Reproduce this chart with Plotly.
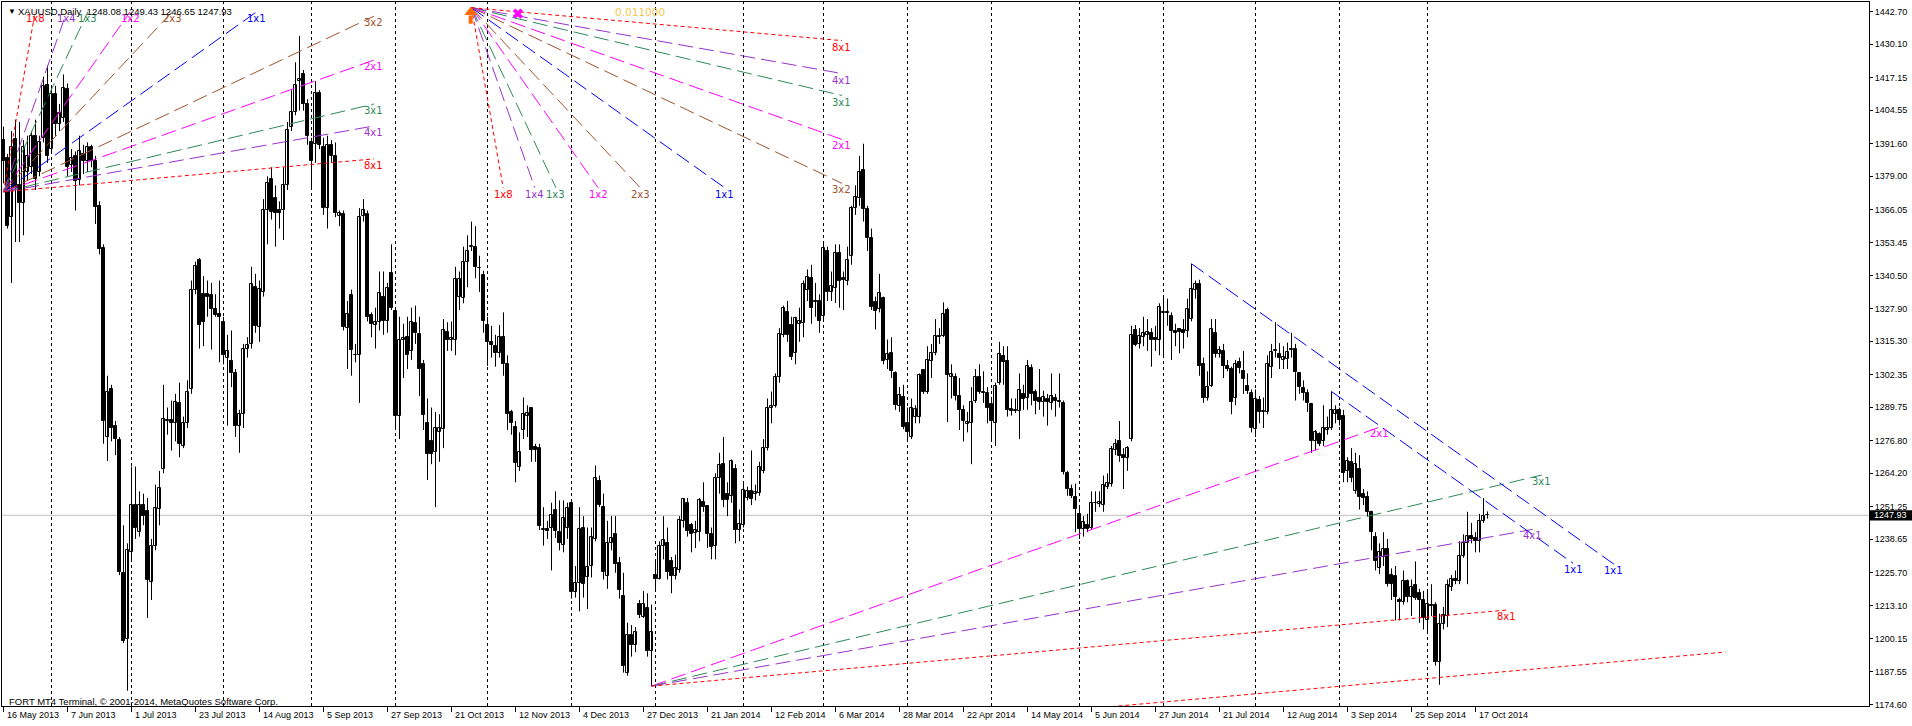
import pandas as pd
import plotly.graph_objects as go

# XAUUSD daily candles, bar 0 = 16 May 2013
opens = [
    1393.0, 1386.0, 1363.2, 1393.3, 1375.8, 1368.5, 1380.7, 1382.5, 1394.7, 1380.7,
    1393.9, 1414.4, 1389.5, 1410.9, 1399.1, 1401.7, 1412.6, 1383.3, 1386.9, 1377.6,
    1387.7, 1385.1, 1390.4, 1385.1, 1367.6, 1351.3, 1278.2, 1296.6, 1282.6, 1277.0,
    1225.7, 1200.3, 1233.6, 1251.9, 1241.4, 1251.9, 1249.7, 1222.2, 1236.2, 1250.2,
    1266.0, 1284.9, 1284.7, 1283.5, 1291.4, 1274.7, 1283.5, 1296.6, 1335.2, 1346.6,
    1333.4, 1333.4, 1333.1, 1327.6, 1325.9, 1322.6, 1308.9, 1307.5, 1302.8, 1282.6,
    1287.0, 1312.4, 1314.2, 1336.4, 1320.8, 1334.3, 1365.8, 1378.1, 1370.6, 1365.8,
    1365.8, 1375.5, 1398.2, 1403.9, 1415.8, 1418.7, 1407.0, 1392.1, 1391.6, 1411.4,
    1390.4, 1366.7, 1391.2, 1386.9, 1363.6, 1364.4, 1320.3, 1333.1, 1310.1, 1309.8,
    1363.6, 1364.4, 1325.5, 1321.5, 1322.6, 1332.5, 1322.9, 1341.7, 1326.8, 1286.5,
    1315.6, 1316.8, 1311.5, 1322.4, 1318.0, 1306.6, 1283.5, 1276.5, 1272.6, 1280.3,
    1281.2, 1318.9, 1315.6, 1315.6, 1332.5, 1332.0, 1345.7, 1351.8, 1351.8, 1343.6,
    1341.0, 1321.7, 1315.0, 1313.3, 1310.6, 1316.8, 1306.6, 1287.9, 1282.1, 1266.5,
    1280.9, 1286.5, 1289.3, 1274.2, 1273.9, 1242.3, 1242.7, 1243.2, 1250.0, 1241.4,
    1236.5, 1243.2, 1252.5, 1218.3, 1221.7, 1243.2, 1223.9, 1228.3, 1238.8, 1261.2,
    1251.1, 1224.5, 1237.4, 1240.6, 1229.5, 1216.9, 1187.1, 1201.5, 1197.7, 1213.8,
    1208.7, 1212.0, 1195.5, 1224.8, 1223.4, 1236.2, 1237.4, 1230.4, 1224.5, 1226.9,
    1245.8, 1252.5, 1244.1, 1240.9, 1241.4, 1253.2, 1251.6, 1240.6, 1236.2, 1262.5,
    1267.7, 1256.3, 1255.5, 1266.0, 1242.3, 1244.1, 1254.6, 1257.2, 1256.3, 1256.7,
    1265.1, 1273.9, 1289.6, 1290.2, 1301.5, 1317.7, 1326.4, 1321.5, 1310.6, 1322.0,
    1322.4, 1335.2, 1339.6, 1330.8, 1330.8, 1325.0, 1350.1, 1334.3, 1335.7, 1349.5,
    1339.6, 1338.7, 1348.3, 1366.7, 1370.7, 1381.3, 1366.4, 1355.3, 1330.3, 1327.8,
    1332.0, 1308.0, 1310.6, 1302.8, 1290.2, 1293.7, 1283.5, 1278.2, 1286.1, 1286.1,
    1304.0, 1295.8, 1307.5, 1310.6, 1316.8, 1317.3, 1327.3, 1301.5, 1301.5, 1294.0,
    1288.7, 1283.1, 1283.5, 1292.3, 1301.5, 1295.8, 1295.2, 1290.9, 1283.5, 1298.9,
    1309.6, 1307.7, 1289.1, 1288.4, 1288.2, 1294.9, 1293.1, 1305.0, 1295.8, 1293.1,
    1291.7, 1292.8, 1291.4, 1293.1, 1292.3, 1291.4, 1264.2, 1258.1, 1254.9, 1248.5,
    1242.7, 1244.1, 1243.2, 1252.5, 1252.3, 1251.9, 1259.0, 1260.2, 1273.0, 1276.5,
    1271.2, 1270.0, 1277.4, 1319.4, 1314.2, 1316.8, 1317.7, 1318.5, 1316.3, 1315.9,
    1326.1, 1326.4, 1325.0, 1319.1, 1319.8, 1319.4, 1319.1, 1323.8, 1335.2, 1337.5,
    1306.3, 1293.1, 1298.0, 1318.5, 1310.3, 1311.3, 1305.7, 1304.5, 1293.1, 1307.1,
    1303.6, 1297.9, 1295.2, 1281.2, 1292.6, 1287.9, 1287.9, 1305.4, 1311.3, 1310.3,
    1308.0, 1308.5, 1312.0, 1312.4, 1302.8, 1297.3, 1295.2, 1291.0, 1276.5, 1279.5,
    1276.5, 1280.9, 1281.7, 1287.0, 1288.7, 1286.5, 1265.1, 1268.6, 1257.2, 1266.0,
    1256.0, 1254.9, 1249.3, 1239.7, 1227.4, 1231.8, 1234.8, 1224.8, 1224.5, 1215.2,
    1214.3, 1222.5, 1216.4, 1220.8, 1217.8, 1215.2, 1207.6, 1213.4, 1213.4, 1191.2,
    1205.9, 1209.0, 1220.2, 1223.4, 1222.7, 1232.2, 1237.1, 1240.0, 1239.2, 1237.9,
    1245.8, 1248.08,
]
highs = [
    1398.2, 1387.7, 1396.5, 1400.9, 1400.0, 1393.0, 1394.7, 1396.5, 1400.9, 1394.7,
    1417.5, 1421.9, 1413.1, 1414.0, 1407.0, 1418.4, 1414.9, 1389.5, 1388.6, 1394.7,
    1391.2, 1392.1, 1391.2, 1386.9, 1369.3, 1352.7, 1301.9, 1298.4, 1284.4, 1278.2,
    1244.1, 1237.1, 1266.8, 1266.8, 1257.2, 1256.3, 1254.6, 1238.8, 1259.8, 1265.1,
    1298.4, 1289.6, 1292.3, 1294.9, 1299.2, 1286.1, 1300.1, 1338.7, 1346.0, 1347.4,
    1340.4, 1338.7, 1337.8, 1333.4, 1338.7, 1324.7, 1317.7, 1319.4, 1304.5, 1288.7,
    1314.2, 1316.8, 1344.0, 1341.3, 1338.7, 1370.2, 1379.0, 1382.5, 1375.5, 1369.3,
    1382.5, 1400.0, 1412.3, 1423.1, 1433.3, 1420.1, 1408.8, 1393.9, 1415.8, 1412.3,
    1393.9, 1394.7, 1393.0, 1392.1, 1365.8, 1365.8, 1330.8, 1335.2, 1314.2, 1366.7,
    1370.2, 1365.8, 1326.4, 1328.2, 1342.2, 1342.2, 1337.8, 1352.7, 1328.2, 1324.7,
    1322.0, 1324.7, 1328.2, 1329.0, 1324.7, 1308.0, 1293.1, 1289.6, 1287.9, 1287.0,
    1323.8, 1322.6, 1322.9, 1344.0, 1342.2, 1351.8, 1356.2, 1361.5, 1359.7, 1348.3,
    1342.5, 1324.7, 1321.2, 1317.7, 1321.5, 1326.4, 1309.8, 1288.7, 1284.4, 1280.0,
    1293.5, 1290.5, 1289.6, 1275.6, 1275.6, 1251.1, 1245.8, 1252.8, 1257.2, 1253.7,
    1253.7, 1252.8, 1253.7, 1228.3, 1251.1, 1247.6, 1243.2, 1243.2, 1267.2, 1263.3,
    1256.3, 1245.8, 1247.6, 1247.6, 1231.8, 1225.7, 1206.4, 1205.5, 1204.7, 1215.2,
    1218.7, 1217.8, 1213.4, 1230.1, 1237.9, 1247.6, 1243.2, 1231.8, 1232.7, 1247.6,
    1254.6, 1254.6, 1245.0, 1245.8, 1254.6, 1260.7, 1251.9, 1243.2, 1264.2, 1272.1,
    1278.2, 1260.7, 1269.5, 1267.7, 1250.2, 1260.7, 1259.0, 1273.0, 1259.8, 1268.6,
    1277.4, 1293.1, 1295.8, 1302.8, 1320.3, 1329.0, 1330.8, 1324.7, 1324.7, 1328.2,
    1338.7, 1343.0, 1344.8, 1337.8, 1333.4, 1353.6, 1351.8, 1342.2, 1352.7, 1352.7,
    1342.2, 1351.8, 1367.6, 1375.5, 1386.9, 1391.6, 1367.6, 1358.8, 1332.5, 1341.3,
    1332.5, 1315.9, 1316.8, 1303.6, 1297.5, 1298.4, 1289.6, 1293.1, 1290.5, 1302.8,
    1304.5, 1313.3, 1314.2, 1323.8, 1320.3, 1330.3, 1328.2, 1306.3, 1302.8, 1301.0,
    1290.5, 1287.9, 1297.5, 1304.5, 1306.3, 1303.6, 1297.5, 1293.1, 1299.2, 1315.0,
    1313.3, 1313.3, 1293.1, 1293.1, 1302.8, 1298.4, 1308.0, 1306.3, 1296.6, 1304.5,
    1296.1, 1294.9, 1302.8, 1294.9, 1302.8, 1292.3, 1265.1, 1259.8, 1260.2, 1251.1,
    1247.6, 1248.5, 1257.2, 1257.2, 1257.2, 1263.3, 1264.2, 1274.7, 1277.4, 1284.4,
    1273.9, 1274.7, 1321.2, 1321.5, 1320.3, 1324.7, 1323.8, 1320.3, 1321.2, 1329.9,
    1332.2, 1331.7, 1326.4, 1322.0, 1320.3, 1323.8, 1331.7, 1345.2, 1338.7, 1339.0,
    1308.9, 1303.6, 1323.8, 1323.8, 1313.3, 1314.2, 1308.0, 1305.4, 1308.0, 1308.9,
    1311.5, 1302.8, 1296.6, 1296.6, 1294.0, 1293.5, 1309.8, 1314.2, 1322.6, 1314.5,
    1313.3, 1314.7, 1318.5, 1314.2, 1303.3, 1300.1, 1296.6, 1291.4, 1280.9, 1280.0,
    1290.5, 1286.1, 1295.8, 1290.5, 1289.6, 1288.7, 1270.4, 1273.9, 1272.1, 1271.2,
    1258.1, 1257.2, 1249.7, 1241.4, 1237.1, 1241.4, 1238.8, 1227.4, 1228.3, 1216.1,
    1226.6, 1223.1, 1223.1, 1230.1, 1219.5, 1218.7, 1218.7, 1221.3, 1214.3, 1209.9,
    1212.5, 1223.1, 1224.8, 1226.6, 1237.9, 1240.6, 1249.3, 1245.0, 1241.4, 1248.5,
    1254.6, 1249.43,
]
lows = [
    1376.3, 1358.8, 1337.8, 1353.6, 1353.6, 1356.2, 1377.2, 1379.9, 1373.7, 1379.0,
    1392.1, 1384.2, 1387.7, 1394.7, 1396.5, 1400.0, 1379.0, 1380.7, 1365.8, 1375.5,
    1379.9, 1380.7, 1382.5, 1360.6, 1348.8, 1275.6, 1268.9, 1276.5, 1271.2, 1224.8,
    1198.5, 1180.1, 1230.1, 1238.8, 1239.7, 1244.1, 1208.2, 1215.2, 1234.4, 1244.1,
    1264.2, 1279.1, 1273.0, 1276.5, 1270.4, 1273.9, 1281.7, 1294.9, 1333.4, 1312.4,
    1313.3, 1324.7, 1312.0, 1324.7, 1307.1, 1306.3, 1282.6, 1297.5, 1278.2, 1272.1,
    1281.7, 1308.9, 1312.4, 1318.5, 1315.0, 1332.5, 1352.7, 1362.3, 1351.8, 1358.8,
    1354.4, 1373.7, 1396.5, 1402.6, 1404.4, 1404.4, 1391.2, 1373.7, 1384.2, 1389.5,
    1364.1, 1358.8, 1384.2, 1363.2, 1359.7, 1319.4, 1304.5, 1301.9, 1307.1, 1291.4,
    1361.5, 1322.9, 1316.8, 1312.4, 1319.4, 1317.7, 1318.5, 1327.3, 1280.9, 1277.4,
    1301.0, 1304.5, 1308.0, 1314.2, 1294.0, 1280.9, 1261.6, 1267.7, 1251.1, 1268.6,
    1273.9, 1311.5, 1311.5, 1309.8, 1327.3, 1329.9, 1336.1, 1350.1, 1339.6, 1334.3,
    1318.5, 1305.7, 1308.9, 1305.4, 1308.9, 1301.9, 1280.9, 1279.1, 1260.7, 1265.1,
    1277.4, 1278.2, 1268.6, 1268.6, 1242.3, 1236.2, 1238.8, 1226.6, 1239.2, 1234.4,
    1233.6, 1238.8, 1215.7, 1216.1, 1210.8, 1216.1, 1211.7, 1223.9, 1237.9, 1251.1,
    1223.1, 1219.5, 1234.4, 1225.7, 1215.7, 1187.1, 1185.9, 1193.3, 1195.0, 1208.2,
    1208.2, 1193.3, 1181.9, 1219.5, 1223.1, 1230.9, 1223.1, 1217.8, 1223.1, 1225.7,
    1243.2, 1239.7, 1233.6, 1235.3, 1237.9, 1249.3, 1235.3, 1230.9, 1230.9, 1256.3,
    1251.1, 1247.6, 1252.8, 1237.1, 1237.9, 1243.2, 1253.7, 1251.9, 1253.7, 1255.5,
    1264.2, 1273.0, 1283.5, 1289.6, 1299.2, 1316.8, 1315.0, 1308.0, 1306.3, 1315.0,
    1316.8, 1330.8, 1322.0, 1324.7, 1318.5, 1322.9, 1330.8, 1330.8, 1330.0, 1328.2,
    1327.3, 1336.9, 1344.8, 1364.1, 1367.6, 1361.5, 1350.1, 1327.3, 1319.8, 1326.4,
    1306.3, 1304.5, 1301.0, 1288.7, 1287.9, 1281.2, 1276.5, 1277.4, 1283.5, 1283.5,
    1294.9, 1294.9, 1301.0, 1309.8, 1314.2, 1316.8, 1284.0, 1293.1, 1292.3, 1280.9,
    1276.5, 1280.0, 1267.7, 1291.4, 1294.9, 1291.4, 1283.5, 1276.5, 1274.7, 1298.4,
    1298.4, 1286.1, 1286.5, 1287.5, 1277.4, 1288.7, 1288.7, 1290.5, 1287.0, 1288.7,
    1286.1, 1282.6, 1288.7, 1286.1, 1289.6, 1263.7, 1255.5, 1254.6, 1241.4, 1238.8,
    1239.7, 1241.4, 1242.3, 1249.3, 1251.1, 1249.3, 1258.1, 1259.0, 1271.2, 1268.6,
    1258.1, 1265.1, 1276.5, 1313.3, 1312.4, 1313.3, 1311.5, 1305.4, 1311.5, 1309.8,
    1309.8, 1321.2, 1308.0, 1313.3, 1310.6, 1312.4, 1316.8, 1322.9, 1331.7, 1301.9,
    1291.4, 1292.3, 1297.5, 1308.9, 1308.9, 1301.0, 1303.6, 1287.0, 1290.5, 1302.8,
    1294.9, 1294.9, 1280.0, 1278.2, 1283.5, 1281.7, 1287.0, 1301.0, 1308.9, 1304.5,
    1304.5, 1304.5, 1308.9, 1292.3, 1294.9, 1292.3, 1287.9, 1272.1, 1273.0, 1274.7,
    1274.7, 1279.1, 1280.9, 1283.5, 1282.6, 1260.7, 1260.7, 1260.7, 1256.3, 1250.2,
    1251.9, 1247.6, 1234.4, 1226.6, 1225.2, 1228.3, 1220.4, 1215.2, 1207.3, 1207.3,
    1213.4, 1214.3, 1209.0, 1215.2, 1206.4, 1203.8, 1202.9, 1209.0, 1189.8, 1182.4,
    1203.8, 1204.7, 1218.7, 1221.3, 1221.3, 1231.5, 1221.3, 1237.1, 1233.6, 1233.6,
    1245.0, 1246.65,
]
closes = [
    1385.1, 1359.7, 1390.4, 1374.6, 1368.8, 1390.4, 1386.9, 1394.7, 1378.1, 1392.1,
    1414.0, 1386.9, 1410.9, 1399.1, 1403.5, 1413.1, 1382.5, 1386.0, 1377.2, 1388.6,
    1385.1, 1390.4, 1385.1, 1367.1, 1350.9, 1284.4, 1295.8, 1281.7, 1277.4, 1226.2,
    1199.4, 1234.4, 1251.9, 1243.2, 1251.9, 1247.6, 1223.1, 1236.2, 1250.7, 1258.6,
    1285.2, 1284.4, 1283.5, 1291.7, 1275.6, 1283.5, 1295.8, 1335.2, 1344.3, 1321.5,
    1322.6, 1332.5, 1327.6, 1325.5, 1324.7, 1309.8, 1311.5, 1302.8, 1282.6, 1287.0,
    1312.4, 1313.8, 1337.3, 1321.2, 1335.5, 1365.8, 1376.3, 1365.3, 1365.0, 1365.0,
    1375.8, 1396.8, 1403.9, 1414.4, 1416.6, 1407.0, 1394.7, 1385.1, 1411.4, 1391.2,
    1366.7, 1391.2, 1386.9, 1365.0, 1365.0, 1320.8, 1325.9, 1312.0, 1309.8, 1363.2,
    1365.8, 1324.7, 1322.0, 1322.6, 1333.8, 1322.9, 1335.7, 1328.2, 1286.5, 1315.6,
    1316.3, 1309.8, 1322.6, 1318.5, 1304.5, 1286.6, 1271.6, 1271.6, 1281.7, 1281.7,
    1319.4, 1315.6, 1316.3, 1339.2, 1339.2, 1346.0, 1350.1, 1352.2, 1344.0, 1343.4,
    1322.9, 1315.0, 1313.8, 1310.6, 1316.8, 1306.6, 1287.0, 1283.5, 1268.2, 1272.6,
    1287.0, 1287.5, 1273.0, 1273.0, 1243.7, 1242.7, 1242.0, 1247.9, 1242.0, 1237.1,
    1246.7, 1250.7, 1218.1, 1221.8, 1242.7, 1221.3, 1228.0, 1239.7, 1262.5, 1251.9,
    1226.2, 1237.1, 1239.3, 1229.2, 1219.2, 1189.8, 1201.5, 1197.7, 1202.9, 1209.4,
    1213.8, 1195.4, 1202.9, 1223.4, 1236.2, 1238.5, 1226.2, 1224.5, 1227.4, 1246.2,
    1254.1, 1242.0, 1240.6, 1242.3, 1253.7, 1251.1, 1240.6, 1235.7, 1262.5, 1267.5,
    1253.7, 1253.7, 1268.9, 1242.3, 1244.4, 1257.7, 1257.2, 1254.2, 1256.9, 1266.8,
    1273.9, 1289.6, 1290.2, 1301.5, 1318.0, 1328.2, 1317.7, 1309.2, 1324.1, 1322.9,
    1337.5, 1339.9, 1328.2, 1330.3, 1322.9, 1351.3, 1334.3, 1336.6, 1349.5, 1338.7,
    1339.0, 1346.6, 1366.7, 1371.1, 1380.7, 1366.4, 1355.3, 1328.5, 1326.8, 1333.8,
    1307.7, 1310.3, 1303.6, 1290.5, 1294.5, 1282.1, 1280.0, 1289.3, 1289.1, 1302.2,
    1295.8, 1308.0, 1310.6, 1317.3, 1317.3, 1325.9, 1302.2, 1302.6, 1294.0, 1288.7,
    1284.4, 1284.0, 1291.9, 1301.5, 1295.8, 1295.2, 1289.6, 1284.4, 1297.9, 1310.3,
    1307.1, 1288.7, 1288.4, 1288.7, 1296.3, 1292.8, 1305.7, 1294.9, 1292.3, 1291.7,
    1293.7, 1291.7, 1294.0, 1292.1, 1291.7, 1264.7, 1258.1, 1255.5, 1250.2, 1242.7,
    1245.5, 1242.7, 1252.5, 1252.8, 1253.2, 1259.8, 1260.4, 1273.5, 1275.6, 1270.7,
    1270.0, 1273.9, 1317.7, 1313.8, 1317.3, 1318.5, 1318.9, 1315.9, 1315.6, 1328.5,
    1326.4, 1326.1, 1319.1, 1318.5, 1318.9, 1318.5, 1327.6, 1335.5, 1337.5, 1305.7,
    1293.1, 1297.5, 1319.9, 1310.3, 1311.9, 1305.7, 1304.5, 1291.7, 1306.6, 1305.0,
    1300.5, 1296.1, 1281.7, 1292.8, 1287.9, 1288.2, 1306.3, 1311.0, 1311.9, 1308.9,
    1309.2, 1311.0, 1312.4, 1303.3, 1297.5, 1295.2, 1291.4, 1276.5, 1280.3, 1275.6,
    1281.7, 1281.7, 1288.6, 1288.7, 1284.7, 1264.2, 1269.1, 1262.5, 1267.7, 1254.9,
    1254.6, 1249.3, 1241.4, 1230.1, 1233.6, 1234.8, 1221.3, 1221.3, 1216.4, 1214.3,
    1222.5, 1216.4, 1220.1, 1216.1, 1215.2, 1208.2, 1213.8, 1212.9, 1191.2, 1205.9,
    1209.5, 1220.8, 1223.4, 1222.5, 1232.2, 1237.4, 1240.0, 1238.8, 1237.9, 1245.8,
    1247.6, 1247.93,
]

# days the broker had no bar
holidays = ["2013-12-25", "2014-01-01", "2014-04-18"]

date_labels = [
    "16 May 2013", "7 Jun 2013", "1 Jul 2013", "23 Jul 2013", "14 Aug 2013",
    "5 Sep 2013", "27 Sep 2013", "21 Oct 2013", "12 Nov 2013", "4 Dec 2013",
    "27 Dec 2013", "21 Jan 2014", "12 Feb 2014", "6 Mar 2014", "28 Mar 2014",
    "22 Apr 2014", "14 May 2014", "5 Jun 2014", "27 Jun 2014", "21 Jul 2014",
    "12 Aug 2014", "3 Sep 2014", "25 Sep 2014", "17 Oct 2014",
]
price_ticks = [
    1442.70, 1430.10, 1417.15, 1404.55, 1391.60, 1379.00, 1366.05, 1353.45,
    1340.50, 1327.90, 1315.30, 1302.35, 1289.75, 1276.80, 1264.20, 1251.25,
    1238.65, 1225.70, 1213.10, 1200.15, 1187.55, 1174.60,
]
last_price = 1247.93
title_text = "XAUUSD,Daily&nbsp; 1248.08 1249.43 1246.65 1247.93"

# gann fan lines
gann_names = ["1x8", "1x4", "1x3", "1x2", "2x3", "1x1", "3x2", "2x1", "3x1", "4x1", "8x1"]
gann_ratio = [8, 4, 3, 2, 1.5, 1, 2 / 3, 1 / 2, 1 / 3, 1 / 4, 1 / 8]
gann_color = ["#FF0000", "#9932CC", "#2E8B57", "#FF00FF", "#A0522D", "#0000FF",
              "#A0522D", "#FF00FF", "#2E8B57", "#9932CC", "#FF0000"]
gann_scale = 1.1  # price per bar of the 1x1 line

# full fans: origin bar, origin price, direction, box width (bars), box height (price)
full_fans = [(0, 1373.0, 1, 92.6, 69.6), (117, 1444.2, -1, 92.6, 69.6)]
# single fan lines: origin bar, origin price, direction, name, end bar, labelled
single_lines = [
    (162, 1181.9, 1, "2x1", 344.0, True),
    (162, 1181.9, 1, "3x1", 384.6, True),
    (162, 1181.9, 1, "4x1", 382.3, True),
    (162, 1181.9, 1, "8x1", 375.8, True),
    (270, 1173.0, 1, "8x1", 430.5, False),
    (297, 1345.2, -1, "1x1", 402.6, True),
    (332, 1295.8, -1, "1x1", 392.4, True),
]

AX_FONT = dict(family="Liberation Sans", size=9, color="black")
LBL_FONT = "DejaVu Sans"

dates = pd.bdate_range("2013-05-16", periods=len(closes), freq="C", holidays=holidays)
bars = list(range(len(closes)))
names_by_bar = {f"{d.day} {d:%b %Y}": i for i, d in enumerate(dates)}
label_bars = [names_by_bar[t] for t in date_labels]
month_starts = [i for i in bars[1:] if dates[i].month != dates[i - 1].month]

fig = go.Figure()

# wicks
wx, wy = [], []
for i in bars:
    wx += [i, i, None]
    wy += [lows[i], highs[i], None]
fig.add_trace(go.Scatter(x=wx, y=wy, mode="lines", line=dict(color="black", width=1),
                         hoverinfo="skip"))

# bodies
bases = [min(o, c) for o, c in zip(opens, closes)]
heights = [abs(c - o) for o, c in zip(opens, closes)]
fills = ["white" if c >= o else "black" for o, c in zip(opens, closes)]
fig.add_trace(go.Bar(x=bars, y=heights, base=bases, width=0.55,
                     marker=dict(color=fills, line=dict(color="black", width=1)),
                     hoverinfo="skip"))

annotations = []


def fan_line(b0, p0, direction, name, end_bar, labelled=True):
    k = gann_names.index(name)
    slope = direction * gann_scale * gann_ratio[k]
    p1 = p0 + slope * (end_bar - b0)
    dash = "4px,3px" if gann_color[k] == "#FF0000" else "15px,6px"
    fig.add_trace(go.Scatter(x=[b0, end_bar], y=[p0, p1], mode="lines",
                             line=dict(color=gann_color[k], width=1, dash=dash),
                             hoverinfo="skip"))
    if labelled:
        annotations.append(dict(x=end_bar, y=p1, text=name, showarrow=False,
                                xanchor="center", yanchor="top", yshift=1,
                                font=dict(family=LBL_FONT, size=10, color=gann_color[k])))


for b0, p0, direction, width, height in full_fans:
    for name, ratio in zip(gann_names, gann_ratio):
        length = min(width, height / (gann_scale * ratio))
        fan_line(b0, p0, direction, name, b0 + length)

for b0, p0, direction, name, end_bar, labelled in single_lines:
    fan_line(b0, p0, direction, name, end_bar, labelled)

# fan B handles
fig.add_trace(go.Scatter(x=[116.8], y=[1442.4], mode="markers",
                         marker=dict(symbol="triangle-up", size=11, color="#FF6A00"),
                         hoverinfo="skip"))
fig.add_trace(go.Scatter(x=[116.8, 116.8], y=[1441.2, 1438.0], mode="lines",
                         line=dict(color="#FF6A00", width=4), hoverinfo="skip"))
fig.add_trace(go.Scatter(x=[128.6], y=[1441.9], mode="markers",
                         marker=dict(symbol="x", size=9, color="#FF00FF"),
                         hoverinfo="skip"))
annotations.append(dict(x=159.1, y=1442.7, text="0.011000", showarrow=False,
                        font=dict(family=LBL_FONT, size=10.5, color="#F2C94C")))

# date labels under the axis
for b, t in zip(label_bars, date_labels):
    annotations.append(dict(x=b + 0.3, y=0, xref="x", yref="paper", text=t,
                            showarrow=False, xanchor="left", yanchor="top", yshift=-2,
                            font=AX_FONT))

annotations += [
    dict(x=0, y=1, xref="paper", yref="paper", text="▼", showarrow=False,
         xanchor="left", yanchor="middle", xshift=4, yshift=-9,
         font=dict(family="Liberation Sans", size=8, color="black")),
    dict(x=0, y=1, xref="paper", yref="paper", text=title_text, showarrow=False,
         xanchor="left", yanchor="middle", xshift=14, yshift=-9,
         font=dict(family="Liberation Sans", size=9.5, color="black")),
    dict(x=0, y=0, xref="paper", yref="paper",
         text="FORT MT4 Terminal, © 2001-2014, MetaQuotes Software Corp.",
         showarrow=False, xanchor="left", yanchor="middle", xshift=5, yshift=5,
         font=dict(family="Liberation Sans", size=9.5, color="black")),
    dict(x=1, y=last_price, xref="paper", yref="y", text=f"{last_price:.2f}",
         showarrow=False, xanchor="left", yanchor="middle", xshift=3,
         font=dict(family="Liberation Sans", size=9, color="white")),
]

shapes = [dict(type="line", xref="x", yref="paper", x0=b, x1=b, y0=0, y1=1,
               line=dict(color="black", width=1, dash="3px,3px"), layer="below")
          for b in month_starts]
shapes.append(dict(type="line", xref="paper", yref="y", x0=0, x1=1,
                   y0=last_price, y1=last_price,
                   line=dict(color="#C0C0C0", width=1), layer="below"))
shapes.append(dict(type="rect", xref="paper", yref="y", x0=1.0005, x1=1.03,
                   y0=last_price - 2.0, y1=last_price + 2.0,
                   fillcolor="black", line=dict(width=0)))

fig.update_layout(
    width=1912, height=726, autosize=False,
    margin=dict(l=2, r=43, t=2, b=20),
    paper_bgcolor="white", plot_bgcolor="white",
    showlegend=False, hovermode=False, bargap=0,
    annotations=annotations, shapes=shapes,
    xaxis=dict(range=[-0.375, 466.375], showgrid=False, zeroline=False,
               showticklabels=False, ticks="outside", ticklen=5, tickcolor="black",
               tickvals=label_bars, showline=True, linecolor="black", linewidth=1,
               mirror=True, fixedrange=True),
    yaxis=dict(range=[1174.2, 1446.4], side="right", showgrid=False, zeroline=False,
               tickvals=price_ticks, ticktext=[f"{p:.2f}" for p in price_ticks],
               ticks="outside", ticklen=3, tickcolor="black", tickfont=AX_FONT,
               showline=True, linecolor="black", linewidth=1, mirror=True,
               fixedrange=True),
)

fig.write_html("out.html", config={"displayModeBar": False},
               post_script="document.body.style.margin='0';")
